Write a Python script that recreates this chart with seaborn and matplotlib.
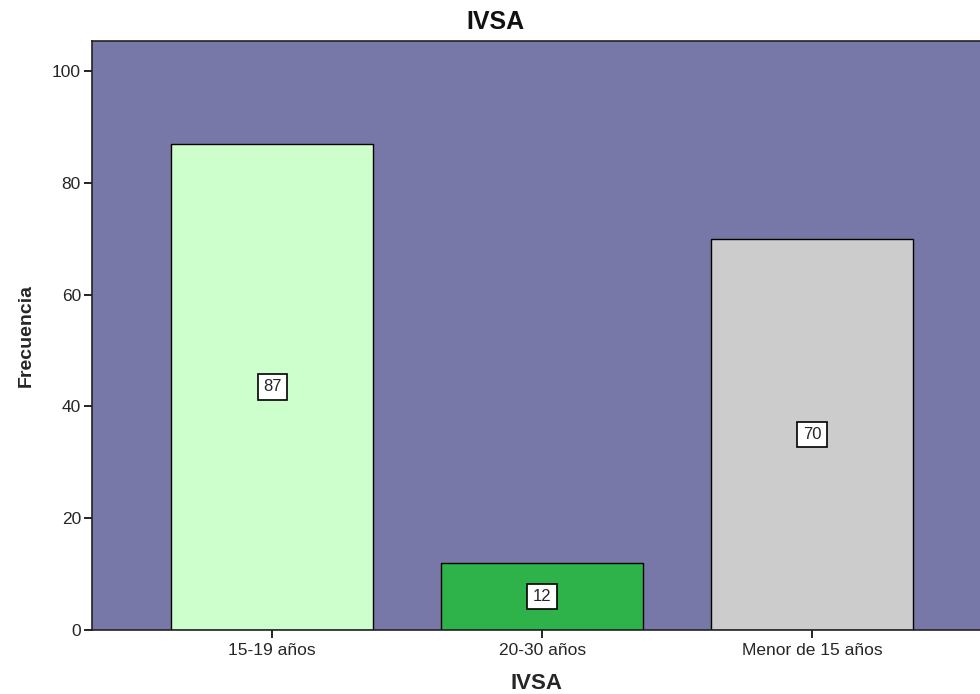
import matplotlib
matplotlib.use("Agg")
import matplotlib.pyplot as plt
import seaborn as sns
import pandas as pd

categories = ["15-19 años", "20-30 años", "Menor de 15 años"]
counts = [87, 12, 70]
bar_colors = ["#CCFFCC", "#2EB34B", "#CCCCCC"]

df = pd.DataFrame({"IVSA": categories, "Frecuencia": counts})

sns.set_style("white")
plt.rcParams["font.family"] = ["Liberation Sans", "DejaVu Sans"]

fig = plt.figure(figsize=(9.8, 6.94), dpi=100)
ax = fig.add_axes([0.0939, 0.0922, 0.9061, 0.8487])
ax.set_facecolor("#7878A8")

sns.barplot(data=df, x="IVSA", y="Frecuencia", hue="IVSA", palette=bar_colors,
            width=0.75, edgecolor="black", linewidth=1.0, legend=False, ax=ax,
            saturation=1)

for i, v in enumerate(counts):
    ax.text(i, v / 2, str(v), ha="center", va="center", fontsize=12,
            bbox=dict(boxstyle="square,pad=0.32", facecolor="white",
                      edgecolor="black", linewidth=1.2))

ax.set_xlim(-0.667, 2.622)
ax.set_ylim(0, 105.4)
ax.set_yticks([0, 20, 40, 60, 80, 100])
ax.tick_params(axis="both", direction="out", length=6, width=1.2,
               labelsize=12.5, color="black", left=True, bottom=True)
ax.tick_params(axis="x", pad=3)
ax.tick_params(axis="y", pad=2)
for side in ["left", "bottom", "top"]:
    ax.spines[side].set_visible(True)
    ax.spines[side].set_color("#222222")
    ax.spines[side].set_linewidth(1.2)
ax.spines["right"].set_visible(False)

# chart title centred over the whole figure
fig.text(0.506, 0.968, "IVSA", ha="center", va="center", fontsize=18,
         fontweight="bold", color="#111111")
ax.set_xlabel("IVSA", fontsize=16, fontweight="bold", labelpad=11)
ax.set_ylabel("Frecuencia", fontsize=14, fontweight="bold", labelpad=12)

fig.savefig("out.png", dpi=100)
